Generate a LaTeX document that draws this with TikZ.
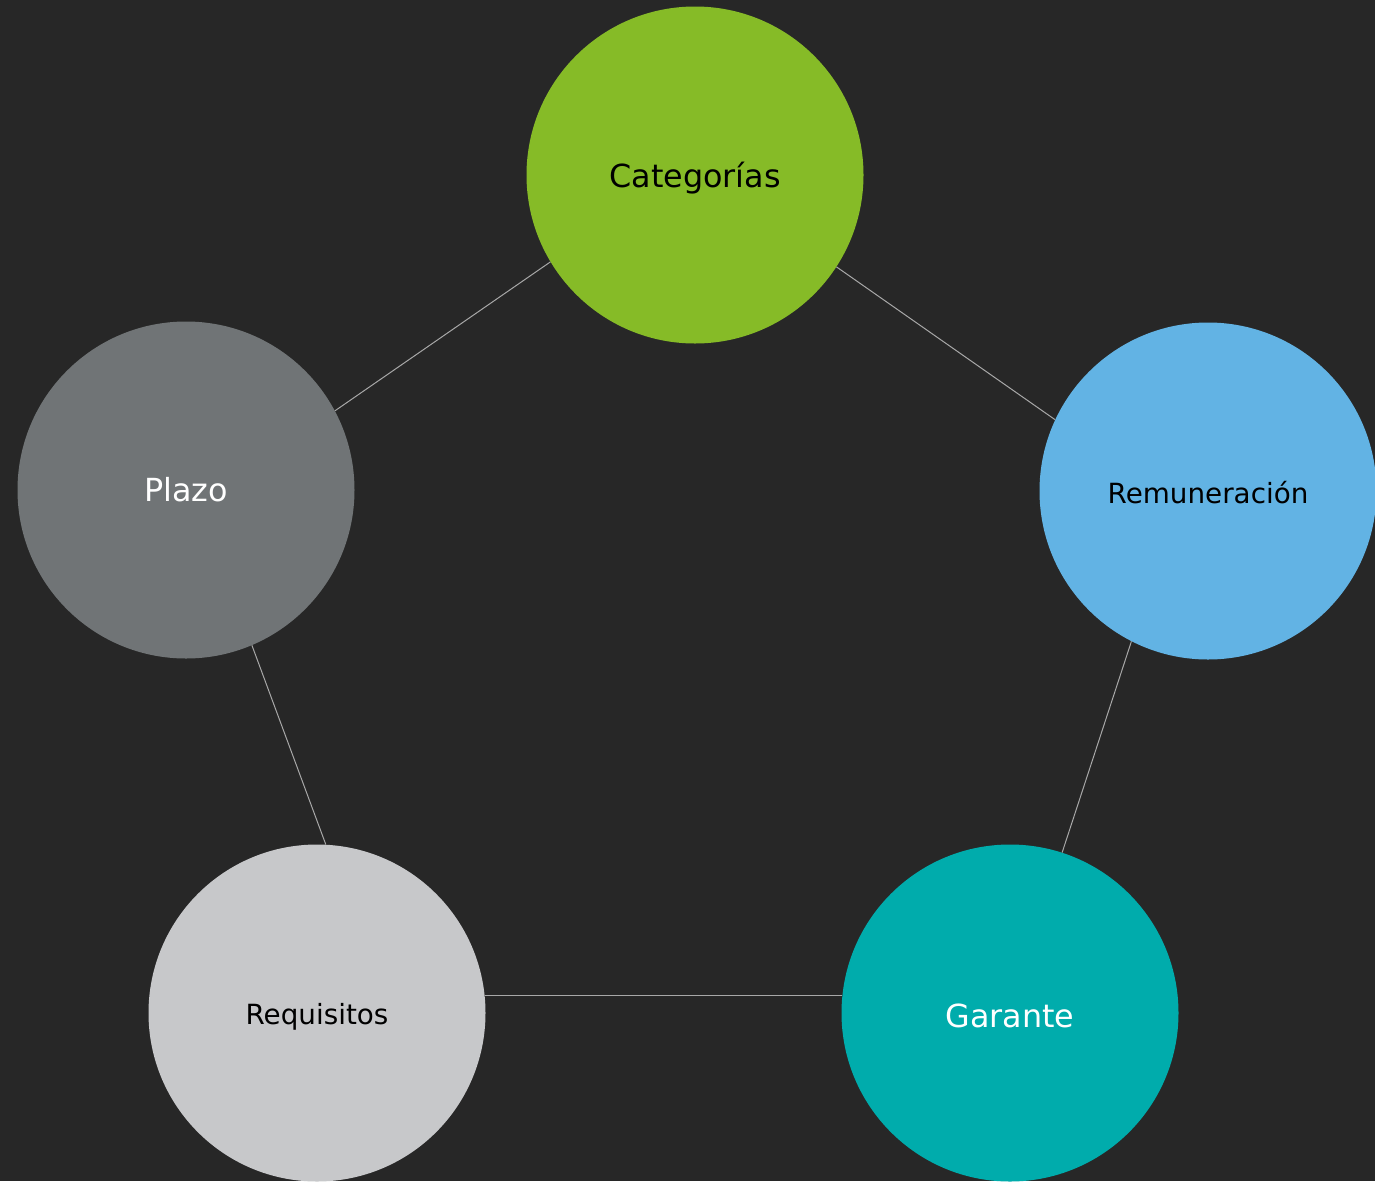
\documentclass[tikz,border=0pt]{standalone}
\usepackage{fontspec}
\setmainfont{DejaVu Sans}
\definecolor{bg}{HTML}{272727}
\definecolor{cgreen}{HTML}{86BB27}
\definecolor{cgray}{HTML}{707476}
\definecolor{cblue}{HTML}{62B3E4}
\definecolor{clight}{HTML}{C7C8CA}
\definecolor{cteal}{HTML}{00ACAC}
\definecolor{cline}{HTML}{A8A8A8}
\begin{document}
\begin{tikzpicture}[x=1pt,y=-1pt,
  bubble/.style={circle,minimum size=337pt,inner sep=0pt,draw=none},
  big/.style={font=\fontsize{31.8}{36}\selectfont},
  small/.style={font=\fontsize{27.8}{32}\selectfont},
  link/.style={draw=cline,line width=1pt}]
\fill[bg] (0,0) rectangle (1375,1181);
\useasboundingbox (0,0) rectangle (1375,1181);
\node[bubble,fill=cgreen,big,text=black,text height=24pt,text depth=0pt] (cat) at (695,175) {Categorías};
\node[bubble,fill=cgray,big,text=white] (pla) at (186,490) {Plazo};
\node[bubble,fill=cblue,small,text=black,text height=25pt,text depth=0pt] (rem) at (1208,491) {Remuneración};
\node[bubble,fill=clight,small,text=black,text height=22.4pt,text depth=0pt] (req) at (317,1013) {Requisitos};
\node[bubble,fill=cteal,big,text=white,text height=28.5pt,text depth=0pt] (gar) at (1010,1013) {Garante};
\draw[link] (cat.211) -- (pla.28);
\draw[link] (cat.327) -- (rem.155);
\draw[link] (pla.293) -- (req.87.6);
\draw[link] (rem.243.4) -- (gar.72);
\draw[link] (req.6) -- (gar.174);
\end{tikzpicture}
\end{document}
